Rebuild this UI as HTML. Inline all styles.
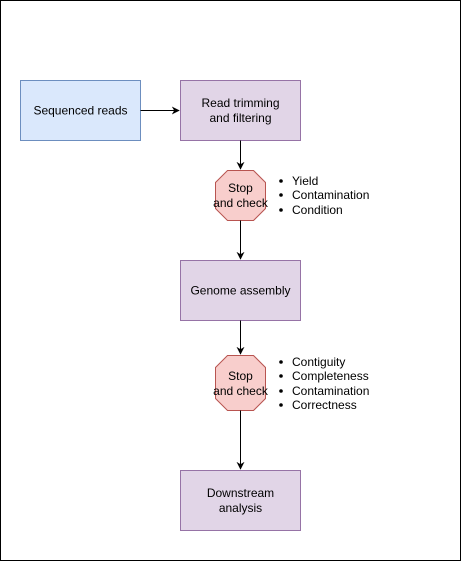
<!DOCTYPE html>
<html><head><meta charset="utf-8"><style>
html,body{margin:0;padding:0;background:#fff;}
svg{display:block;}
text{font-family:"Liberation Sans",Helvetica,sans-serif;font-size:12px;fill:#000;}
</style></head><body>
<svg width="462" height="562" viewBox="0 0 462 562" xmlns="http://www.w3.org/2000/svg">
<rect x="0.5" y="0.5" width="460" height="560" fill="#fff" stroke="#000"/>
<defs><marker id="a" viewBox="0 0 10 10" refX="9" refY="5" markerWidth="8" markerHeight="8" orient="auto"><path d="M0,0 L10,5 L0,10 L3,5 z" fill="#000"/></marker></defs>
<rect x="20.5" y="80.5" width="120" height="60" fill="#dae8fc" stroke="#6c8ebf"/>
<text x="80.5" y="114.5" text-anchor="middle">Sequenced reads</text>
<rect x="180.5" y="80.5" width="120" height="60" fill="#e1d5e7" stroke="#9673a6"/>
<text x="240.5" y="107" text-anchor="middle">Read trimming</text>
<text x="240.5" y="122" text-anchor="middle">and filtering</text>
<rect x="180.5" y="260.5" width="120" height="60" fill="#e1d5e7" stroke="#9673a6"/>
<text x="240.5" y="294.5" text-anchor="middle">Genome assembly</text>
<rect x="180.5" y="470.5" width="120" height="60" fill="#e1d5e7" stroke="#9673a6"/>
<text x="240.5" y="497" text-anchor="middle">Downstream</text>
<text x="240.5" y="512" text-anchor="middle">analysis</text>
<polygon points="227.5,170.5 253.5,170.5 265.5,182.5 265.5,208.5 253.5,220.5 227.5,220.5 215.5,208.5 215.5,182.5" fill="#f8cecc" stroke="#b85450"/>
<text x="240.5" y="192" text-anchor="middle">Stop</text>
<text x="240.5" y="207" text-anchor="middle">and check</text>
<polygon points="227.5,355.5 253.5,355.5 265.5,367.5 265.5,398.5 253.5,410.5 227.5,410.5 215.5,398.5 215.5,367.5" fill="#f8cecc" stroke="#b85450"/>
<text x="240.5" y="380" text-anchor="middle">Stop</text>
<text x="240.5" y="395" text-anchor="middle">and check</text>
<g stroke="#000" fill="none">
<line x1="140.5" y1="110.5" x2="179" y2="110.5" marker-end="url(#a)"/>
<line x1="240.5" y1="140.5" x2="240.5" y2="169" marker-end="url(#a)"/>
<line x1="240.5" y1="220.5" x2="240.5" y2="259" marker-end="url(#a)"/>
<line x1="240.5" y1="320.5" x2="240.5" y2="354" marker-end="url(#a)"/>
<line x1="240.5" y1="410.5" x2="240.5" y2="469" marker-end="url(#a)"/>
</g>
<g fill="#000">
<circle cx="281" cy="181" r="1.8"/><circle cx="281" cy="195" r="1.8"/><circle cx="281" cy="210" r="1.8"/>
<circle cx="281" cy="362" r="1.8"/><circle cx="281" cy="376" r="1.8"/><circle cx="281" cy="391" r="1.8"/><circle cx="281" cy="405" r="1.8"/>
</g>
<text x="292" y="185">Yield</text>
<text x="292" y="199">Contamination</text>
<text x="292" y="214">Condition</text>
<text x="292" y="366">Contiguity</text>
<text x="292" y="380">Completeness</text>
<text x="292" y="395">Contamination</text>
<text x="292" y="409">Correctness</text>
</svg>
</body></html>
